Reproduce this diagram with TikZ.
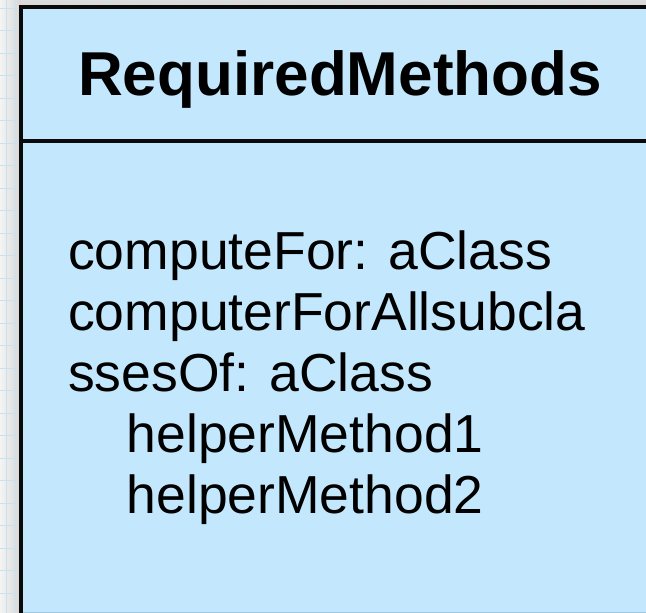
\documentclass[tikz,border=0pt]{standalone}
\usepackage{fontspec}
\setmainfont{Liberation Sans}
\definecolor{classfill}{RGB}{195,232,253}
\definecolor{classline}{RGB}{10,10,10}
\definecolor{classedge}{RGB}{160,200,222}
\definecolor{gridblue}{RGB}{200,226,236}
\definecolor{canvas}{RGB}{244,244,244}
\definecolor{shadowgray}{RGB}{214,214,214}
\tikzset{
  classtitle/.style={anchor=base, inner sep=0pt, font=\fontsize{62}{70}\selectfont\bfseries},
  member/.style={anchor=base west, inner sep=0pt, font=\fontsize{53.5}{61}\selectfont},
  border/.style={draw=classline, line width=4pt},
  gridline/.style={gridblue, line width=0.8pt},
}
\begin{document}
\begin{tikzpicture}[x=1pt, y=-1pt]
\useasboundingbox (0,0) rectangle (646,613);
\begin{scope}
  \clip (0,0) rectangle (646,613);
  % canvas with its drop shadow and grid
  \fill[canvas] (0,0) rectangle (646,613);
  \shade[left color=canvas, right color=shadowgray] (0,0) rectangle (21,613);
  \shade[top color=shadowgray!80!canvas, bottom color=shadowgray] (21,0) rectangle (646,7);
  \foreach \gy in {8,30.5,53,75.5,98,120.5,143,165.5,188,210.5,233,255.5,278,300.5,323,345.5,368,390.5,413,435.5,458,480.5,503,525.5,548,570.5,593}
    \draw[gridline] (0,\gy) -- (21,\gy);
  \foreach \gx in {6.5,15.5}
    \draw[gridline] (\gx,0) -- (\gx,613);
  \foreach \gx in {44,66.5,89,111.5,134,156.5,179,201.5,224,246.5,269,291.5,314,336.5,359,381.5,404,426.5,449,471.5,494,516.5,539,561.5,584,606.5,629}
    \draw[gridline] (\gx,0) -- (\gx,6);
  % class box: body, lower edge, border and compartment divider
  \fill[classfill] (21,7) rectangle (660,620);
  \draw[classedge, line width=1pt] (21,612.5) -- (660,612.5);
  \draw[border] (21,625) -- (21,7) -- (660,7);
  \draw[border] (21,140.5) -- (660,140.5);
\end{scope}
\node[classtitle] (title) at (340,95) {RequiredMethods};
\node[member] (m1) at (68,269) {computeFor: aClass};
\node[member] (m2) at (68,330) {computerForAllsubcla};
\node[member] (m3) at (68,391) {ssesOf: aClass};
\node[member] (m4) at (126.5,452) {helperMethod1};
\node[member] (m5) at (126.5,513) {helperMethod2};
\end{tikzpicture}
\end{document}
